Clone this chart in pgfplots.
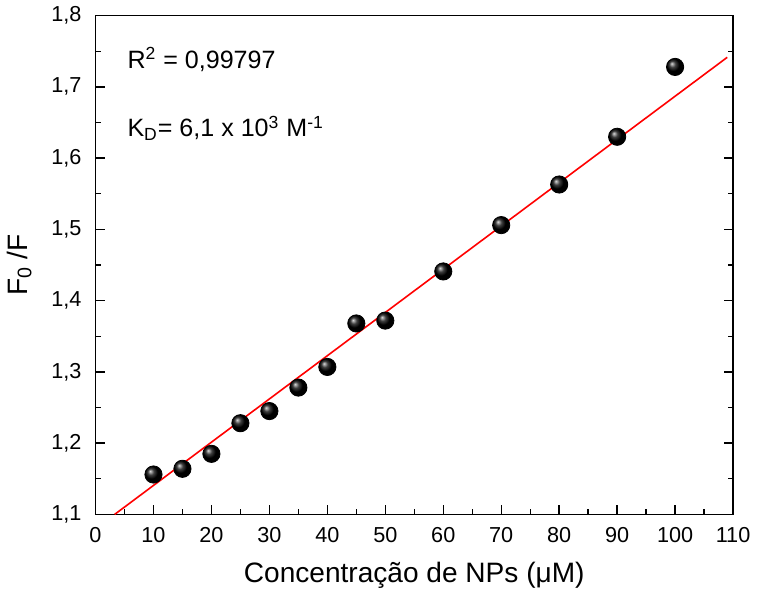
\documentclass[border=0pt]{standalone}
\usepackage{pgfplots}
\pgfplotsset{compat=1.18}
\usepackage{fontspec}
\setmainfont{Liberation Sans}
\begin{document}
\begin{tikzpicture}
\begin{axis}[
  scale only axis,
  width=318pt, height=248.8pt,
  xmin=0, xmax=110, ymin=1.1, ymax=1.8,
  xtick={0,10,...,110},
  ytick={1.1,1.2,...,1.8},
  minor x tick num=1, minor y tick num=1,
  tick align=inside,
  xtick pos=bottom,
  ytick pos=both,
  major tick length=4.5pt, minor tick length=2.5pt,
  axis line style={line width=0.8pt},
  every tick/.style={black, line width=0.7pt},
  /pgf/number format/assume math mode=true,
  /pgf/number format/use comma,
  yticklabel style={/pgf/number format/fixed, /pgf/number format/fixed zerofill, /pgf/number format/precision=1, xshift=-3.5pt},
  xticklabel style={yshift=-3pt},
  ticklabel style={font=\fontsize{10.8}{12}\selectfont},
  xlabel={Concentração de NPs (μM)},
  ylabel={F\textsubscript{0} /F},
  label style={font=\fontsize{14}{16}\selectfont},
  xlabel style={yshift=-3pt},
  ylabel style={yshift=3pt},
  clip=false,
]
\addplot[red, line width=0.8pt, no marks] coordinates {(3.3,1.1) (109,1.7415)};
\addplot[only marks, mark=ball, mark size=4.3pt, mark options={ball color=black}] coordinates {
(10,1.156) (15,1.164) (20,1.185) (25,1.228) (30,1.245) (35,1.278) (40,1.307)
(45,1.368) (50,1.372) (60,1.441) (70,1.506) (80,1.563) (90,1.630) (100,1.728)
};
\node[anchor=west, font=\fontsize{12.5}{14}\selectfont] at (axis cs:4.3,1.738) {R\textsuperscript{2} = 0,99797};
\node[anchor=west, font=\fontsize{12.5}{14}\selectfont] at (axis cs:4.3,1.642) {K\textsubscript{D}= 6,1 x 10\textsuperscript{3} M\textsuperscript{-1}};
\end{axis}
\end{tikzpicture}
\end{document}
